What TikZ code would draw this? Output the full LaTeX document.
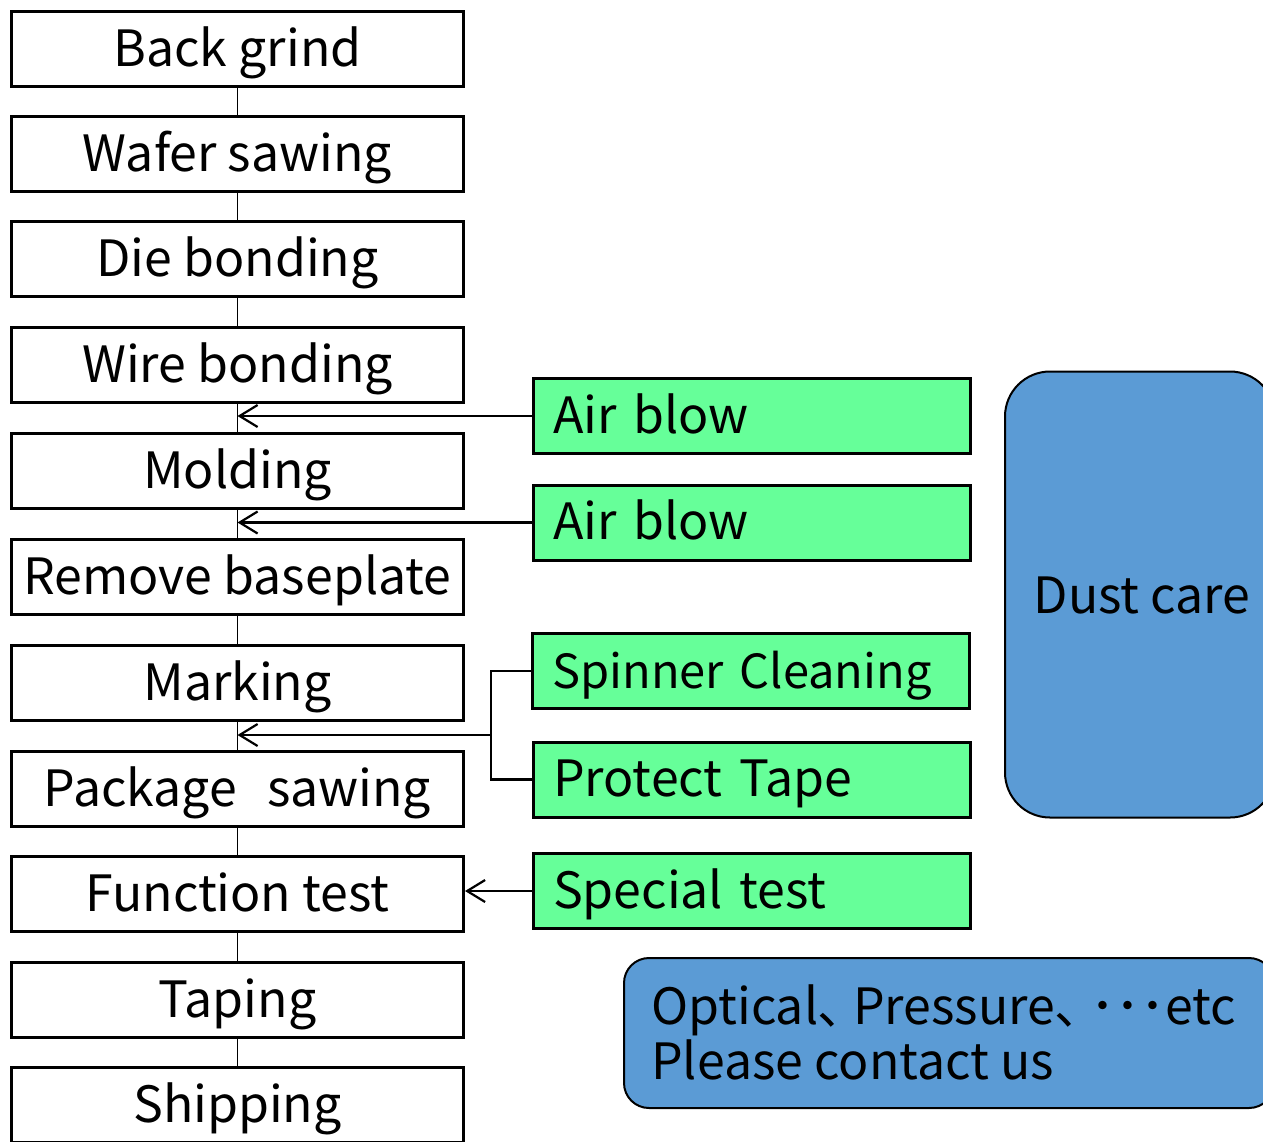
\documentclass[tikz,border=0pt]{standalone}
\usepackage{fontspec}
\setmainfont{Noto Sans CJK JP}[RawFeature=+palt]
\usetikzlibrary{arrows.meta}
\definecolor{boxgreen}{RGB}{102,255,153}
\definecolor{boxblue}{RGB}{91,155,213}
\begin{document}
\begin{tikzpicture}[x=1pt,y=-1pt,
  bigfont/.style={font=\fontsize{50}{57}\selectfont},
  stepbox/.style={draw, line width=3pt, fill=white, minimum width=452pt, minimum height=75pt, inner sep=0pt, text height=41pt, text depth=7pt, bigfont},
  greenbox/.style={draw, line width=3pt, fill=boxgreen, text width=397pt, inner xsep=20pt, inner ysep=0pt, minimum height=75pt, text height=41pt, text depth=7pt, align=left, bigfont},
  link/.style={line width=1.5pt},
  feed/.style={line width=2.2pt, -{Straight Barb[length=18pt,width=22pt,line width=2.2pt]}},
  plain/.style={line width=2.2pt}]
\useasboundingbox (0,0) rectangle (1263,1141);
\clip (0,0) rectangle (1263,1141);
% process column
\node[stepbox] (bg) at (237.5,49)    {Back grind};
\node[stepbox] (ws) at (237.5,154)   {Wafer sawing};
\node[stepbox] (db) at (237.5,259)   {Die bonding};
\node[stepbox] (wb) at (237.5,365)   {Wire bonding};
\node[stepbox] (mo) at (237.5,471)   {Molding};
\node[stepbox] (rb) at (237.5,577)   {Remove baseplate};
\node[stepbox] (mk) at (237.5,683)   {Marking};
\node[stepbox] (ps) at (237.5,789)   {Package\hspace{0.6em}sawing};
\node[stepbox] (ft) at (237.5,894)   {Function test};
\node[stepbox] (tp) at (237.5,1000)  {Taping};
\node[stepbox] (sh) at (237.5,1105)  {Shipping};
\foreach \a/\b in {bg/ws,ws/db,db/wb,wb/mo,mo/rb,rb/mk,mk/ps,ps/ft,ft/tp,tp/sh}
  \draw[link] (\a.south) -- (\b.north);
% green boxes
\node[greenbox] (ab1) at (751.5,416)   {Air blow};
\node[greenbox] (ab2) at (751.5,522.5) {Air blow};
\node[greenbox, font=\fontsize{47}{54}\selectfont] (sc)  at (751,671) {Spinner Cleaning};
\node[greenbox] (pt)  at (751.5,779.5) {Protect Tape};
\node[greenbox] (st)  at (751.5,891)   {Special test};
% connectors
\draw[feed] (ab1.west) -- (ab1.west -| wb.south);
\draw[feed] (ab2.west) -- (ab2.west -| mo.south);
\coordinate (j) at (491,735);
\draw[plain] (sc.west) -- (sc.west -| j) -- (pt.west -| j) -- (pt.west);
\draw[feed] (j) -- (j -| mk.south);
\draw[feed] (st.west) -- (st.west -| ft.east);
% blue boxes
\node[draw, line width=2pt, fill=boxblue, rounded corners=45pt, minimum width=270pt, minimum height=446pt, inner sep=0pt] (dc) at (1140,594.5) {};
\node[bigfont, anchor=base, inner sep=0pt] (dct) at (1142,613) {Dust care};
\node[draw, line width=2pt, fill=boxblue, rounded corners=25pt, minimum width=650pt, minimum height=150pt, inner sep=0pt] (op) at (949,1033) {};
\node[bigfont, anchor=base west, inner sep=0pt] (opt1) at (651,1024) {Optical、\kern0.2em Pressure、\kern0.2em ･･･etc};
\node[bigfont, anchor=base west, inner sep=0pt] (opt2) at (651,1079) {Please contact us};
\end{tikzpicture}
\end{document}
